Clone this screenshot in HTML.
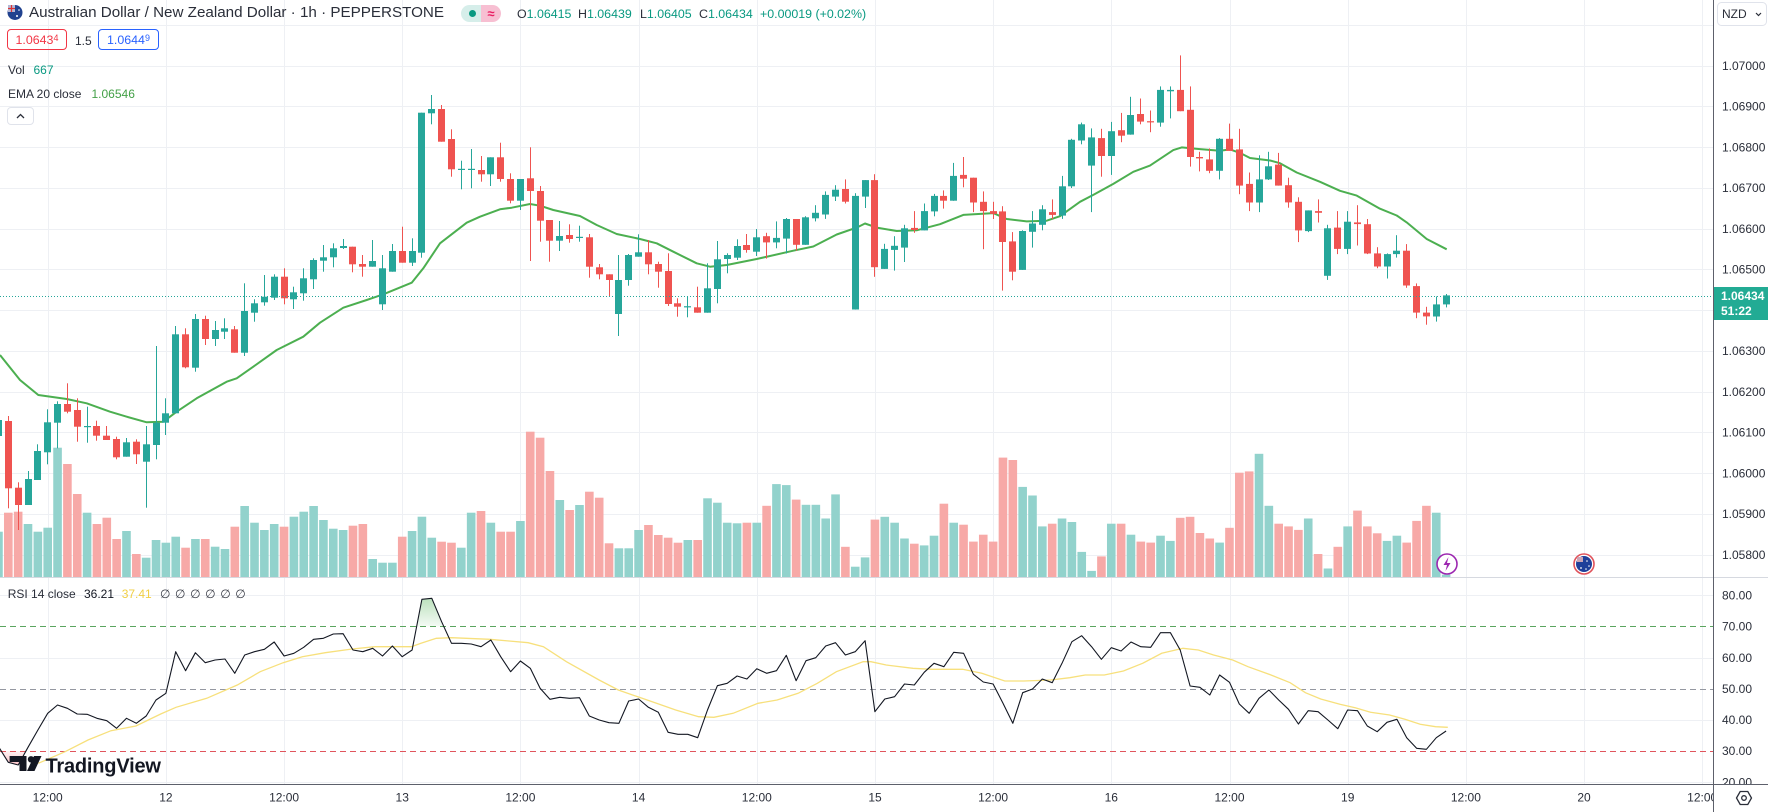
<!DOCTYPE html>
<html><head><meta charset="utf-8">
<style>
html,body{margin:0;padding:0;background:#fff;width:1768px;height:812px;overflow:hidden;font-family:"Liberation Sans",sans-serif;}
#c{position:absolute;left:0;top:0;}
.t{position:absolute;white-space:nowrap;color:#2a2e39;}
.g{color:#089981;}
.lg{font-size:12px;line-height:16px;}
.box{position:absolute;top:29px;height:21px;border-radius:4px;box-sizing:border-box;font-size:12.4px;line-height:21px;text-align:center;}
sup{font-size:9px;vertical-align:3px;line-height:0;}
</style></head><body>
<svg id="c" width="1768" height="812" viewBox="0 0 1768 812" xmlns="http://www.w3.org/2000/svg" font-family="Liberation Sans, sans-serif">
 <defs>
  <linearGradient id="ob" x1="0" y1="0" x2="0" y2="1"><stop offset="0" stop-color="#4caf50" stop-opacity="0.38"/><stop offset="1" stop-color="#4caf50" stop-opacity="0.06"/></linearGradient>
  <linearGradient id="os" x1="0" y1="0" x2="0" y2="1"><stop offset="0" stop-color="#f23645" stop-opacity="0.06"/><stop offset="1" stop-color="#f23645" stop-opacity="0.3"/></linearGradient>
  <clipPath id="pp"><rect x="0" y="0" width="1713" height="577"/></clipPath>
  <clipPath id="rp"><rect x="0" y="578" width="1713" height="206"/></clipPath>
  <clipPath id="ax"><rect x="1714" y="578" width="54" height="206"/></clipPath>
 </defs>
 <g id="grid"></g>
 <g id="vol" clip-path="url(#pp)"></g>
 <g id="ema" clip-path="url(#pp)"></g>
 <g id="cdl" clip-path="url(#pp)"></g>
 <line x1="0" y1="296.5" x2="1713" y2="296.5" stroke="#26a69a" stroke-width="1" stroke-dasharray="1 2"/>
 <g id="rsi" clip-path="url(#rp)"></g>
 <!-- separators / axes -->
 <line x1="0" y1="577.5" x2="1768" y2="577.5" stroke="#d6d9e0" stroke-width="1"/>
 <line x1="1713.5" y1="0" x2="1713.5" y2="812" stroke="#5d606b" stroke-width="1"/>
 <line x1="0" y1="784.5" x2="1768" y2="784.5" stroke="#5d606b" stroke-width="1"/>
 <!-- price axis labels -->
 <g font-size="12" fill="#2a2e39">
  <text x="1722" y="69.9">1.07000</text>
  <text x="1722" y="110.6">1.06900</text>
  <text x="1722" y="151.4">1.06800</text>
  <text x="1722" y="192.1">1.06700</text>
  <text x="1722" y="232.9">1.06600</text>
  <text x="1722" y="273.6">1.06500</text>
  <text x="1722" y="355.1">1.06300</text>
  <text x="1722" y="395.9">1.06200</text>
  <text x="1722" y="436.6">1.06100</text>
  <text x="1722" y="477.4">1.06000</text>
  <text x="1722" y="518.1">1.05900</text>
  <text x="1722" y="558.9">1.05800</text>
 </g>
 <g font-size="12" fill="#2a2e39" clip-path="url(#ax)">
  <text x="1722" y="599.5">80.00</text>
  <text x="1722" y="630.6">70.00</text>
  <text x="1722" y="661.8">60.00</text>
  <text x="1722" y="692.9">50.00</text>
  <text x="1722" y="724">40.00</text>
  <text x="1722" y="755.2">30.00</text>
  <text x="1722" y="786.3">20.00</text>
 </g>
 <!-- current price label -->
 <rect x="1714" y="287" width="54" height="33" fill="#22ab94"/>
 <text x="1721" y="300" font-size="12" fill="#fff" font-weight="bold">1.06434</text>
 <text x="1721" y="315" font-size="12" fill="#fff" font-weight="bold">51:22</text>
 <!-- NZD button -->
 <rect x="1717.5" y="2.5" width="49" height="23" rx="4" fill="#fff" stroke="#e0e3eb"/>
 <text x="1722" y="18" font-size="12" fill="#2a2e39">NZD</text>
 <polyline points="1756,13 1758.5,15.5 1761,13" fill="none" stroke="#2a2e39" stroke-width="1.2"/>
 <!-- time axis labels -->
 <g font-size="12" fill="#2a2e39" text-anchor="middle">
  <text x="47.7" y="801.5">12:00</text>
  <text x="165.9" y="801.5">12</text>
  <text x="284.1" y="801.5">12:00</text>
  <text x="402.2" y="801.5">13</text>
  <text x="520.4" y="801.5">12:00</text>
  <text x="638.6" y="801.5">14</text>
  <text x="756.8" y="801.5">12:00</text>
  <text x="875" y="801.5">15</text>
  <text x="993.1" y="801.5">12:00</text>
  <text x="1111.3" y="801.5">16</text>
  <text x="1229.5" y="801.5">12:00</text>
  <text x="1347.7" y="801.5">19</text>
  <text x="1465.9" y="801.5">12:00</text>
  <text x="1584" y="801.5">20</text>
 </g>
 <svg x="1680" y="785" width="33" height="27"><text x="22.2" y="16.5" font-size="12" fill="#2a2e39" text-anchor="middle">12:00</text></svg>
 <!-- settings icon -->
 <polygon points="1736.5,798 1740.2,791.5 1747.8,791.5 1751.5,798 1747.8,804.5 1740.2,804.5" fill="none" stroke="#2a2e39" stroke-width="1.3"/>
 <circle cx="1744" cy="798" r="2.3" fill="none" stroke="#2a2e39" stroke-width="1.3"/>
 <!-- event icons -->
 <circle cx="1447" cy="564" r="10" fill="#fff" stroke="#9c27b0" stroke-width="1.6"/>
 <polygon points="1448.5,557 1443.5,565 1447,565 1445.5,571 1450.5,563 1447,563" fill="#9c27b0"/>
 <circle cx="1584" cy="564" r="10" fill="#fff" stroke="#e0525a" stroke-width="1.6"/>
 <circle cx="1584" cy="564" r="8" fill="#1f3f9a"/>
 <rect x="1577" y="557" width="6" height="5" fill="#c9a3b5"/>
 <circle cx="1581" cy="568" r="0.9" fill="#fff"/><circle cx="1587" cy="561" r="0.8" fill="#fff"/><circle cx="1589" cy="566" r="0.8" fill="#fff"/><circle cx="1586" cy="569" r="0.8" fill="#fff"/>
 <!-- flag in header -->
 <circle cx="15" cy="12.5" r="7.5" fill="#21428f"/>
 <rect x="8" y="5" width="7" height="7" fill="#b7b9d6"/>
 <line x1="8" y1="8.5" x2="15" y2="8.5" stroke="#d33" stroke-width="1.2"/>
 <line x1="11.5" y1="5" x2="11.5" y2="12" stroke="#d33" stroke-width="1.2"/>
 <circle cx="17" cy="16" r="1" fill="#fff"/><circle cx="19" cy="10" r="0.8" fill="#fff"/>
 <!-- TradingView logo -->
 <g fill="#131722">
  <path d="M9.6 756 H26.5 V771 H19.5 V762 H9.6 Z"/>
  <circle cx="31" cy="759.3" r="3.2"/>
  <path d="M34 756 H41.5 L34.5 771 H27 Z"/>
  <text x="45.5" y="772.5" font-size="20" font-weight="bold" letter-spacing="-0.2">TradingView</text>
 </g>
</svg>

<!-- header legend -->
<div class="t" style="left:29px;top:3px;font-size:15.2px;line-height:20px;">Australian Dollar / New Zealand Dollar · 1h · PEPPERSTONE</div>
<div style="position:absolute;left:461px;top:5px;width:40px;height:17px;border-radius:9px;overflow:hidden;">
 <div style="position:absolute;left:0;top:0;width:20px;height:17px;background:#d6eeea;"></div>
 <div style="position:absolute;left:20px;top:0;width:20px;height:17px;background:#f7bfd2;"></div>
 <div style="position:absolute;left:7.5px;top:5px;width:7px;height:7px;border-radius:50%;background:#089981;"></div>
 <div style="position:absolute;left:23px;top:0;width:14px;height:17px;line-height:17px;text-align:center;color:#e91e63;font-size:13px;font-weight:bold;">≈</div>
</div>
<div class="t" style="left:517px;top:6px;font-size:12.4px;line-height:16px;">O<span class="g">1.06415</span></div>
<div class="t" style="left:578px;top:6px;font-size:12.4px;line-height:16px;">H<span class="g">1.06439</span></div>
<div class="t" style="left:640px;top:6px;font-size:12.4px;line-height:16px;">L<span class="g">1.06405</span></div>
<div class="t" style="left:699px;top:6px;font-size:12.4px;line-height:16px;">C<span class="g">1.06434</span></div>
<div class="t g" style="left:760px;top:6px;font-size:12.4px;line-height:16px;">+0.00019 (+0.02%)</div>

<div class="box" style="left:7px;width:60px;border:1px solid #f23645;color:#f23645;">1.0643<sup>4</sup></div>
<div class="t" style="left:75px;top:33px;font-size:12px;line-height:16px;">1.5</div>
<div class="box" style="left:98px;width:61px;border:1px solid #2962ff;color:#2962ff;">1.0644<sup>9</sup></div>

<div class="t lg" style="left:8px;top:62px;">Vol</div>
<div class="t lg g" style="left:33.5px;top:62px;">667</div>
<div class="t lg" style="left:8px;top:86px;">EMA 20 close</div>
<div class="t lg" style="left:91.5px;top:86px;color:#43a047;">1.06546</div>
<div style="position:absolute;left:7px;top:107px;width:27px;height:18px;border:1px solid #e0e3eb;border-radius:4px;box-sizing:border-box;background:#fff;">
 <svg width="25" height="16" style="position:absolute;left:0;top:0"><polyline points="9,10 12.5,6.5 16,10" fill="none" stroke="#2a2e39" stroke-width="1.3"/></svg>
</div>

<div class="t lg" style="left:7.7px;top:586px;">RSI 14 close</div>
<div class="t lg" style="left:84px;top:586px;color:#131722;">36.21</div>
<div class="t lg" style="left:121.7px;top:586px;color:#f0cf45;">37.41</div>
<div class="t lg" style="left:160px;top:586px;letter-spacing:4.6px;color:#3a3d47;">∅∅∅∅∅∅</div>

<script>
(function(){
const NS='http://www.w3.org/2000/svg';
function add(p,tag,a){const e=document.createElementNS(NS,tag);for(const k in a)e.setAttribute(k,a[k]);p.appendChild(e);return e;}
const X=i=>47.7+9.848*i;
const F=z=>106.4+(z-193)*0.3443;
const RZ=z=>510+z/3;
const RY=v=>688.7-(v-50)*3.114;
const COL={g:'#26a69a',r:'#ef5350'};
const VCOL={g:'#92d2cc',r:'#f7a9a7'};
const grid=document.getElementById('grid');
// horizontal price grid
for(let k=-1;k<=12;k++){const y=Math.round(65.7+40.75*k)+0.5;add(grid,'line',{x1:0,x2:1713,y1:y,y2:y,stroke:'#eef0f4','stroke-width':1});}
// vertical grid
for(let k=0;k<15;k++){const x=Math.round(47.7+118.18*k)+0.5;add(grid,'line',{x1:x,x2:x,y1:0,y2:784,stroke:'#eef0f4','stroke-width':1});}
// rsi grid
[80,60,40,20].forEach(v=>{const y=Math.round(RY(v))+0.5;add(grid,'line',{x1:0,x2:1713,y1:y,y2:y,stroke:'#eef0f4','stroke-width':1});});
[[70,'#5aa55e'],[50,'#9598a1'],[30,'#e0555d']].forEach(a=>{const y=Math.round(RY(a[0]))+0.5;add(grid,'line',{x1:0,x2:1713,y1:y,y2:y,stroke:a[1],'stroke-width':1,'stroke-dasharray':'6 4'});});

// candles
const A=[[-5,'g',420,436,416,440],[-4,'r',421,488.3,416,508.3],[-3,'r',487.7,505,482.3,530],[-2,'g',479,505,471,505],[-1,'g',451,480,444.3,480],[0,'g',422.3,452.3,409.3,464.3],[1,'g',404,422.7,401.3,448.3],[2,'r',404,411.7,383.3,413.3],[3,'r',410,426.7,398.3,441.7],[4,'g',426,427,406.7,442.7],[5,'r',426,435.7,420.7,440.7],[6,'r',435.7,440,426,440],[7,'r',439,457.3,436.7,459.3],[8,'g',442.3,456.7,438,456.7],[9,'r',441.7,454.3,439.3,464],[10,'g',444.3,461.7,426,507.7],[11,'g',422.7,445,346,459.3],[12,'g',413.3,422.7,398.3,435],[13,'g',334.3,413.3,326,413.3],[14,'r',334.3,367.3,328.3,368.3],[15,'g',319,367.7,314,371.7],[16,'r',319,339,315.7,345],[17,'g',330,339,321,346],[18,'g',328.3,331.7,318.3,339],[19,'r',329.3,352.7,326,352.7],[20,'g',311,352.7,283.3,356],[21,'g',303.3,312.7,299.3,321.7],[22,'g',296.7,302.3,275,305.7],[23,'g',276.7,297.7,274.3,300],[24,'r',276.7,298.3,268.3,304.3],[25,'g',292.3,299.3,286.7,309],[26,'g',278.3,293.3,268.3,300.7],[27,'g',260,279.3,258.3,289],[28,'g',257.3,260.7,245,271.7],[29,'g',248.3,257.3,243.3,267.3],[30,'g',246,248,239,249],[31,'r',246.7,264.3,246.7,272.3],[32,'r',264,266.7,255,276.7],[33,'g',261,266.7,240,266.7],[34,'g',268.3,304.3,255,310],[35,'g',251,271.7,244,271.7],[36,'r',251,262.7,226.7,262.7],[37,'g',251,262.7,238.3,266],[38,'g',112.7,252.7,112.7,257.7],[39,'g',109,113.3,95,124.3],[40,'r',109,141.7,105,141.7],[41,'r',139,169.3,129.3,176.7],[42,'g',168.8,169.8,160.7,189.3],[43,'g',168.8,169.8,149,188.3],[44,'r',170,174.3,156,181.7],[45,'g',157.3,174.3,157.3,186],[46,'r',157.3,179,142.7,181.7],[47,'r',179,200.7,173.3,203.3],[48,'g',179,200.7,179,210],[49,'r',178.3,191,147.3,261],[50,'r',191,220.7,186,241.7],[51,'r',220,240.7,220,261.7],[52,'g',236,240.7,221,251],[53,'r',235,239,224.3,242.7],[54,'g',236.8,237.8,225.7,241.7],[55,'r',237.3,266.7,234,277.7],[56,'r',267.3,274.3,264,279.3],[57,'r',274.3,280,274.3,296],[58,'g',280,314,255,336],[59,'g',255,280,254,285.7],[60,'g',252.3,256.7,234.3,256.7],[61,'r',252.3,264.3,240,274.3],[62,'r',264,271.7,261.7,287.7],[63,'r',271,304,253.3,306],[64,'r',303.3,306.7,298.3,316.7],[65,'g',306.2,307.2,296,317.3],[66,'r',307.3,312.7,286.7,312.7],[67,'g',288.3,312.7,263.3,312.7],[68,'g',259.3,289,241,303.3],[69,'g',255,259,253.3,273.3],[70,'g',246,257.7,239.3,260],[71,'r',245,250,234,252.7],[72,'g',237.3,251.7,229,256]];
const B=[[73,'r',570,588,560,635],[74,'g',575,588,527,605],[75,'g',520,577,517,620],[76,'r',520,595,520,612],[77,'g',515,595,512,595],[78,'g',502,518,480,527],[79,'g',450,507,440,520],[80,'g',435,455,422,468],[81,'r',433,470,405,475],[82,'g',453,783,445,783],[83,'g',407,455,407,488],[84,'r',407,660,390,688],[85,'g',607,665,592,665],[86,'g',598,610,570,670],[87,'g',547,603,537,645],[88,'r',546,552,497,560],[89,'g',497,553,475,553],[90,'g',453,498,447,512],[91,'r',453,467,437,490],[92,'g',395,467,357,467],[93,'r',392,403,340,428],[94,'r',400,472,400,500],[95,'r',470,497,440,608],[96,'r',497,505,470,520],[97,'r',498,587,483,728],[98,'r',585,673,558,698],[99,'g',555,668,553,668],[100,'g',533,557,497,603],[101,'g',492,537,480,553],[102,'r',500,508,463,520],[103,'g',425,510,395,520],[104,'g',290,425,287,430],[105,'g',245,292,240,303],[106,'g',283,365,257,500],[107,'r',285,337,258,397],[108,'g',265,337,238,392],[109,'r',262,278,212,297],[110,'g',218,275,165,275],[111,'r',215,237,170,245],[112,'r',236,239,205,268],[113,'g',145,240,135,252],[114,'g',145,149,135,228],[115,'r',145,207,45,207],[116,'r',203,340,135,368],[117,'r',340,344,325,382],[118,'r',347,380,315,387],[119,'g',287,380,285,405],[120,'r',287,322,243,322],[121,'r',318,423,258,448],[122,'r',418,472,385,497],[123,'g',405,472,335,500],[124,'g',367,405,325,407],[125,'r',362,423,328,423],[126,'r',422,472,400,487],[127,'r',470,553,457,587],[128,'g',495,555,495,558],[129,'r',497,502,463,530],[130,'g',547,685,537,697],[131,'r',545,607,497,622],[132,'g',528,607,497,622],[133,'r',530,535,480,597],[134,'r',535,620,520,622],[135,'r',620,658,602,663],[136,'g',622,658,620,693],[137,'g',612,622,567,632],[138,'r',612,713,593,720],[139,'r',715,792,707,808],[140,'r',792,803,775,827],[141,'g',768,803,745,818],[142,'g',742,768,738,777]];
const C=A.concat(B.map(b=>[b[0],b[1],F(b[2]),F(b[3]),F(b[4]),F(b[5])]));
const cdl=document.getElementById('cdl');
C.forEach(c=>{const cx=Math.floor(X(c[0]));const col=COL[c[1]];
 add(cdl,'rect',{x:cx,y:c[4].toFixed(1),width:1,height:Math.max(c[5]-c[4],1).toFixed(1),fill:col});
 add(cdl,'rect',{x:cx-3,y:c[2].toFixed(1),width:7,height:Math.max(c[3]-c[2],1.2).toFixed(1),fill:col});
});
// volume
const VA=[[-5,'g',531.7],[-4,'r',512.7],[-3,'r',511.7],[-2,'g',524],[-1,'g',531.7],[0,'g',527.7],[1,'g',447.7],[2,'r',464],[3,'r',494],[4,'g',512.7],[5,'r',524],[6,'r',517.7],[7,'r',539],[8,'g',531],[9,'r',554],[10,'g',557.7],[11,'g',540],[12,'g',542.7],[13,'g',536.7],[14,'r',547.7],[15,'g',539],[16,'r',539],[17,'g',546.7],[18,'g',549],[19,'r',526.7],[20,'g',506],[21,'g',522.7],[22,'g',530],[23,'g',524],[24,'r',526.7],[25,'g',516.7],[26,'g',511.7],[27,'g',506],[28,'g',520],[29,'g',528.7],[30,'g',530],[31,'r',525.7],[32,'r',524],[33,'g',559],[34,'g',562.7],[35,'g',562.7],[36,'r',536.7],[37,'g',531],[38,'g',516.7],[39,'g',537.7],[40,'r',541.7],[41,'r',542.7],[42,'g',547.7],[43,'g',512.7],[44,'r',511],[45,'g',522.7],[46,'r',531.7],[47,'r',531.7],[48,'g',521],[49,'r',431.7],[50,'r',437.7],[51,'r',471],[52,'g',500],[53,'r',510],[54,'g',505],[55,'r',491.7],[56,'r',497.7],[57,'r',543.3],[58,'g',548.3],[59,'g',548.3],[60,'g',530],[61,'r',525],[62,'r',535],[63,'r',537.7],[64,'r',542.7],[65,'g',540],[66,'r',540],[67,'g',498.3],[68,'g',502.7],[69,'g',522.7],[70,'g',523.3],[71,'r',522.7],[72,'g',522.7]];
const VB=[[73,'r',1353],[74,'g',1290],[75,'g',1293],[76,'r',1335],[77,'g',1350],[78,'g',1350],[79,'g',1390],[80,'g',1320],[81,'r',1472],[82,'g',1530],[83,'g',1503],[84,'r',1393],[85,'g',1385],[86,'g',1402],[87,'g',1448],[88,'r',1463],[89,'g',1468],[90,'g',1440],[91,'r',1347],[92,'g',1402],[93,'r',1408],[94,'r',1457],[95,'r',1437],[96,'r',1457],[97,'r',1213],[98,'r',1220],[99,'g',1298],[100,'g',1323],[101,'g',1413],[102,'r',1405],[103,'g',1390],[104,'g',1400],[105,'g',1487],[106,'g',1542],[107,'r',1500],[108,'g',1405],[109,'r',1405],[110,'g',1437],[111,'r',1457],[112,'r',1460],[113,'g',1440],[114,'g',1455],[115,'r',1388],[116,'r',1385],[117,'r',1432],[118,'r',1448],[119,'g',1460],[120,'r',1417],[121,'r',1257],[122,'r',1253],[123,'g',1202],[124,'g',1353],[125,'r',1405],[126,'r',1413],[127,'r',1423],[128,'g',1390],[129,'r',1493],[130,'g',1535],[131,'r',1472],[132,'g',1413],[133,'r',1367],[134,'r',1413],[135,'r',1433],[136,'g',1455],[137,'g',1440],[138,'r',1460],[139,'r',1397],[140,'r',1353],[141,'g',1373],[142,'g',1553]];
const V=VA.concat(VB.map(v=>[v[0],v[1],F(v[2])]));
const vol=document.getElementById('vol');
V.forEach(v=>{const x=X(v[0])-4.3;add(vol,'rect',{x:x.toFixed(2),y:v[2].toFixed(1),width:8.6,height:(577-v[2]).toFixed(1),fill:VCOL[v[1]]});});
// EMA
const EA=[[0,355],[20,380],[38.3,395],[66.7,399],[86.7,403.3],[110,411.7],[126.7,416.7],[146.7,422.3],[163.3,421.7],[176.7,411.7],[196.7,398.3],[226.7,381.7],[236.7,378.3],[253.3,366.7],[276.7,350],[303.3,336.7],[320,322.7],[343.3,307.7],[366.7,300],[383.3,294.3],[411.7,282.7],[423.3,268.3],[440,243.3],[466.7,222.7],[480,216.7],[500,209.3],[511.7,207.7],[530,204],[540,205.7],[553.3,210],[580,216],[596.7,225],[616.7,234],[640,239],[656.7,243.3],[673.3,251.7],[696.7,263.3],[710,266.7],[726.7,265],[756.7,259]];
const E6=[[100,612],[160,600],[230,565],[290,545],[315,533],[350,545],[410,555],[470,553],[540,535],[610,508],[700,503],[740,520],[800,527],[860,525],[900,512],[960,470],[1000,450],[1060,418],[1120,383]];
const E7=[[30,365],[100,320],[125,312],[180,317],[240,322],[270,318],[300,328],[330,343],[390,350],[420,358],[470,385],[540,412],[600,438],[650,452],[720,490],[770,510],[800,530],[860,578],[920,608]];
const ep=EA.concat(E6.map(p=>[760+p[0]/3,F(p[1])]),E7.map(p=>[1140+p[0]/3,F(p[1])]));
add(document.getElementById('ema'),'polyline',{points:ep.map(p=>p[0].toFixed(1)+','+p[1].toFixed(1)).join(' '),fill:'none',stroke:'#4caf50','stroke-width':2,'stroke-linejoin':'round'});
// RSI
const RZL={'-5':710,'-4':757,'-3':765,'-2':712,'-1':660};
const RR=[610,585,595,612,613,625,632,655,625,640,618,570,550,425,482,428,458,450,447,490,435,425,418,396,438,430,412,388,385,372,371,420,425,415,438,408,440,420,268,265,335,400,400,402,410,390,440,485,453,475,535,568,562,565,563,618,630,638,640,573,567,592,607,667,673,673,683,600,527,520,498,507,476,490,482,436,512,452,443,408,398,435,425,392,605,567,560,522,525,487,460,470,427,430,493,516,522,580,640,548,537,507,518,460,395,377,410,448,413,423,396,410,412,368,368,420,528,532,555,495,517,582,610,565,540,570,598,642,602,605,630,656,600,602,648,665,637,628,683,715,718,683,663];
const rp=[];for(let i=-5;i<0;i++)rp.push([X(i),RZ(RZL[i])]);RR.forEach((z,i)=>rp.push([X(i),RZ(z)]));
const rsi=document.getElementById('rsi');
// fills
const y70=RY(70),y30=RY(30);
const ob=[[X(37.465),y70],[X(38),RZ(268)],[X(39),RZ(265)],[X(40),RZ(335)],[X(40.218),y70]];
add(rsi,'polygon',{points:ob.map(p=>p[0].toFixed(1)+','+p[1].toFixed(1)).join(' '),fill:'url(#ob)'});
const os=[[X(-4.72),y30],[X(-4),RZ(757)],[X(-3),RZ(765)],[X(-2.21),y30]];
add(rsi,'polygon',{points:os.map(p=>p[0].toFixed(1)+','+p[1].toFixed(1)).join(' '),fill:'url(#os)'});
// MA
const M8=[[100,760],[170,725],[230,690],[290,662],[355,648],[420,612],[460,592],[540,565],[620,525],[680,485],[740,458],[790,440],[850,428],[920,417],[980,410],[1075,410],[1100,400],[1140,385],[1180,383],[1280,388],[1330,393],[1380,398],[1420,410],[1480,455]];
const M9=[[50,510],[100,540],[155,562],[200,580],[250,600],[310,620],[350,622],[400,610],[465,580],[515,570],[570,550],[620,520],[670,485],[740,455],[760,455],[800,465],[870,475],[920,478],[1000,478],[1050,490],[1110,513],[1160,513],[1230,510],[1280,503],[1320,495],[1370,495],[1420,483],[1470,460],[1520,430]];
const M10=[[60,415],[100,420],[140,435],[190,450],[230,470],[290,495],[340,518],[380,548],[420,567],[470,583],[510,593],[550,607],[600,615],[640,628],[680,643],[720,650],[752,652]];
const mp=M8.map(p=>[p[0]/2.613,RZ(p[1])]).concat(M9.map(p=>[580+p[0]/2.613,RZ(p[1])]),M10.map(p=>[1160+p[0]/2.613,RZ(p[1])]));
add(rsi,'polyline',{points:mp.map(p=>p[0].toFixed(1)+','+p[1].toFixed(1)).join(' '),fill:'none',stroke:'#f7e07c','stroke-width':1.3});
add(rsi,'polyline',{points:rp.map(p=>p[0].toFixed(1)+','+p[1].toFixed(1)).join(' '),fill:'none',stroke:'#131722','stroke-width':1.1,'stroke-linejoin':'round'});
})();
</script>
</body></html>
